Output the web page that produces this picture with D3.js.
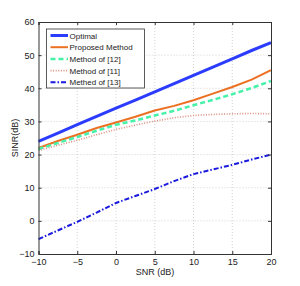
<!DOCTYPE html>
<html><head><meta charset="utf-8">
<script src="https://cdn.jsdelivr.net/npm/d3@7"></script>
<style>body{margin:0;background:#fff}svg{display:block}text{font-family:"Liberation Sans",Arial,sans-serif;fill:#222}</style>
</head><body><svg id="c" width="300" height="286"></svg>
<script>
const snr = [-10,-7.5,-5,-2.5,0,2.5,5,7.5,10,12.5,15,17.5,20];
const optimal  = [24,26.5,29,31.5,34,36.4,38.9,41.4,43.9,46.4,48.9,51.4,53.8];
const proposed = [22,24.1,26,28,29.7,31.4,33.3,34.7,36.4,38.4,40.4,42.6,45.5];
const m12      = [21.7,23.5,25.3,27.2,29,30.3,31.8,33.2,34.9,36.5,38.2,40.1,42.2];
const m11      = [21.2,22.8,24.3,26,27.6,28.9,30.1,31.1,31.8,32.1,32.3,32.4,32.3];
const m13      = [-5.5,-2.9,-0.3,2.5,5.4,7.5,9.6,12,14.1,15.5,16.9,18.5,20];
const xTicks = [-10,-5,0,5,10,15,20];
const yTicks = [-10,0,10,20,30,40,50,60];
const names = ["Optimal","Proposed Method","Method of [12]","Method of [11]","Methed of [13]"];

const series = [
  {name:names[0], v:optimal,  color:"#2b3cff", w:3,   dash:null},
  {name:names[1], v:proposed, color:"#ec7022", w:2,   dash:null},
  {name:names[2], v:m12,      color:"#45f2a8", w:2.5, dash:"5,3"},
  {name:names[3], v:m11,      color:"#d98f7f", w:1.6, dash:"1,1.6"},
  {name:names[4], v:m13,      color:"#1a1adf", w:2,   dash:"5,2,1.5,2"}
];

const L=38.5,R=271,T=22,B=254;
const svg=d3.select("#c");
const x=d3.scaleLinear().domain([-10,20]).range([L,R]);
const y=d3.scaleLinear().domain([-10,60]).range([B,T]);

// grid
const g=svg.append("g");
g.selectAll(".gx").data(xTicks.slice(1,-1)).join("line")
 .attr("x1",d=>x(d)).attr("x2",d=>x(d)).attr("y1",T).attr("y2",B)
 .attr("stroke","#c8c8c8").attr("stroke-width",0.8).attr("stroke-dasharray","1,2");
g.selectAll(".gy").data(yTicks.slice(1,-1)).join("line")
 .attr("y1",d=>y(d)).attr("y2",d=>y(d)).attr("x1",L).attr("x2",R)
 .attr("stroke","#c8c8c8").attr("stroke-width",0.8).attr("stroke-dasharray","1,2");

// lines
const line=d3.line().x((d,i)=>x(snr[i])).y(d=>y(d));
series.forEach(s=>{
  svg.append("path").attr("d",line(s.v)).attr("fill","none")
   .attr("stroke",s.color).attr("stroke-width",s.w)
   .attr("stroke-dasharray",s.dash);
});

// axes
const fmt=d=>d<0?"\u2212"+Math.abs(d):String(d);
const ax=svg.append("g").attr("transform",`translate(0,${B})`)
 .call(d3.axisBottom(x).tickValues(xTicks).tickSize(-3).tickPadding(5).tickFormat(fmt));
const ay=svg.append("g").attr("transform",`translate(${L},0)`)
 .call(d3.axisLeft(y).tickValues(yTicks).tickSize(-3).tickPadding(4).tickFormat(fmt));
svg.append("g").attr("transform",`translate(0,${T})`)
 .call(d3.axisTop(x).tickValues(xTicks).tickSize(-3).tickFormat(""));
svg.append("g").attr("transform",`translate(${R},0)`)
 .call(d3.axisRight(y).tickValues(yTicks).tickSize(-3).tickFormat(""));
svg.selectAll(".domain").attr("stroke","#333").attr("stroke-width",1);
svg.selectAll(".tick line").attr("stroke","#333");
svg.selectAll(".tick text").attr("font-size",9).attr("fill","#222")
 .attr("font-family","Liberation Sans, Arial, sans-serif");

// axis labels
svg.append("text").attr("x",155).attr("y",275).attr("text-anchor","middle")
 .attr("font-size",9).text("SNR (dB)");
svg.append("text").attr("transform","translate(18,138) rotate(-90)")
 .attr("text-anchor","middle").attr("font-size",9).text("SINR(dB)");

// legend
const lg=svg.append("g");
lg.append("rect").attr("x",46.5).attr("y",29).attr("width",98).attr("height",59)
 .attr("fill","#fff").attr("stroke","#333").attr("stroke-width",0.8);
series.forEach((s,i)=>{
  const yy=35.5+i*11.7;
  lg.append("line").attr("x1",50.5).attr("x2",68).attr("y1",yy).attr("y2",yy)
   .attr("stroke",s.color).attr("stroke-width",s.w).attr("stroke-dasharray",s.dash);
  lg.append("text").attr("x",69.5).attr("y",yy+3).attr("font-size",8).text(s.name);
});
</script></body></html>
